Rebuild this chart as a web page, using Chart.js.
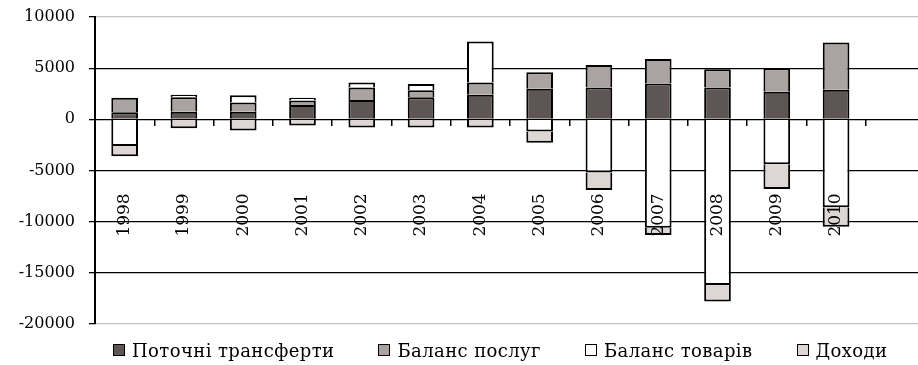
<!DOCTYPE html>
<html>
<head>
<meta charset="utf-8">
<script src="https://cdn.jsdelivr.net/npm/chart.js@4.4.1/dist/chart.umd.min.js"></script>
<style>
  html, body { margin: 0; padding: 0; background: #fff; overflow: hidden; }
  #wrap { position: relative; width: 918px; height: 365px; overflow: hidden; }
  #box { position: absolute; left: 0; top: 0; width: 925px; height: 365px; }
  #legend {
    position: absolute; left: 113px; top: 340px; height: 20px;
    display: flex; align-items: center; gap: 44px;
    font-family: "DejaVu Serif", serif; font-size: 18px; color: #000;
    letter-spacing: 0.4px; white-space: nowrap;
  }
  #legend .item { display: flex; align-items: center; gap: 7px; }
  #legend .mark { width: 10px; height: 10px; border: 1px solid #000; }
</style>
</head>
<body>
<div id="wrap">
  <div id="box"><canvas id="c"></canvas></div>
  <div id="legend"></div>
</div>
<script>
// Balance of payments components, by year
const years = ['1998', '1999', '2000', '2001', '2002', '2003', '2004',
               '2005', '2006', '2007', '2008', '2009', '2010'];
const transfers = [700, 750, 750, 1400, 1900, 2150, 2400, 3000, 3100, 3500, 3100, 2700, 2900];
const services  = [1400, 1400, 900, 450, 1200, 700, 1200, 1600, 2200, 2400, 1800, 2300, 4600];
const goods     = [-2600, 250, 700, 250, 500, 600, 4000, -1200, -5200, -10600, -16200, -4400, -8600];
const income    = [-1000, -870, -1100, -600, -800, -800, -800, -1100, -1700, -700, -1600, -2400, -1900];
const yTicks    = [10000, 5000, 0, -5000, -10000, -15000, -20000];

const seriesNames = ['Поточні трансферти', 'Баланс послуг', 'Баланс товарів', 'Доходи'];
const seriesColors = ['#5e5654', '#aba3a1', '#ffffff', '#ddd6d4'];

// a trailing empty category keeps the plot running past the last year
const categories = years.concat(['']);

const font = { family: '"DejaVu Serif", serif', size: 16 };

const datasets = [transfers, services, goods, income].map((values, i) => ({
  label: seriesNames[i],
  data: values,
  backgroundColor: seriesColors[i],
  borderColor: '#000',
  borderWidth: 2,
  categoryPercentage: 1,
  barPercentage: 0.45
}));

const chart = new Chart(document.getElementById('c'), {
  type: 'bar',
  data: { labels: categories, datasets },
  options: {
    responsive: true,
    maintainAspectRatio: false,
    animation: false,
    devicePixelRatio: 1,
    layout: { padding: { top: 17, bottom: 41, left: 0, right: 0 } },
    plugins: { legend: { display: false }, tooltip: { enabled: false } },
    scales: {
      x: {
        stacked: true,
        offset: true,
        position: { y: 0 },
        // the category axis sits on the zero line and takes no layout room
        afterFit: (s) => { s.height = 0; s.paddingLeft = 0; s.paddingRight = 0; },
        border: { display: false },
        grid: {
          display: true, offset: true, drawOnChartArea: false, drawTicks: true,
          tickLength: 7, tickColor: '#000', lineWidth: 1.5
        },
        ticks: {
          autoSkip: false, minRotation: 90, maxRotation: 90, padding: 67,
          color: '#000', z: 1, font: { family: font.family, size: 17 }
        }
      },
      y: {
        stacked: true,
        min: -20000,
        max: 10000,
        afterFit: (s) => { s.width = 95; s.paddingTop = 0; s.paddingBottom = 0; },
        afterBuildTicks: (s) => { s.ticks = yTicks.map(v => ({ value: v })); },
        border: { display: true, color: '#000', width: 2 },
        grid: {
          color: (c) => (c.tick && (c.tick.value === 10000 || c.tick.value === -20000)) ? '#c4c4c4' : '#000',
          lineWidth: 1.3,
          drawTicks: true, tickLength: 6, tickColor: '#000'
        },
        ticks: {
          padding: 14, color: '#000', font,
          callback: (v) => String(v)
        }
      }
    }
  }
});

// legend built from the chart's own legend items
const legendEl = document.getElementById('legend');
chart.options.plugins.legend.labels.generateLabels(chart).forEach(item => {
  const el = document.createElement('div');
  el.className = 'item';
  const mark = document.createElement('span');
  mark.className = 'mark';
  mark.style.background = item.fillStyle;
  const txt = document.createElement('span');
  txt.textContent = item.text;
  el.appendChild(mark);
  el.appendChild(txt);
  legendEl.appendChild(el);
});
</script>
</body>
</html>
